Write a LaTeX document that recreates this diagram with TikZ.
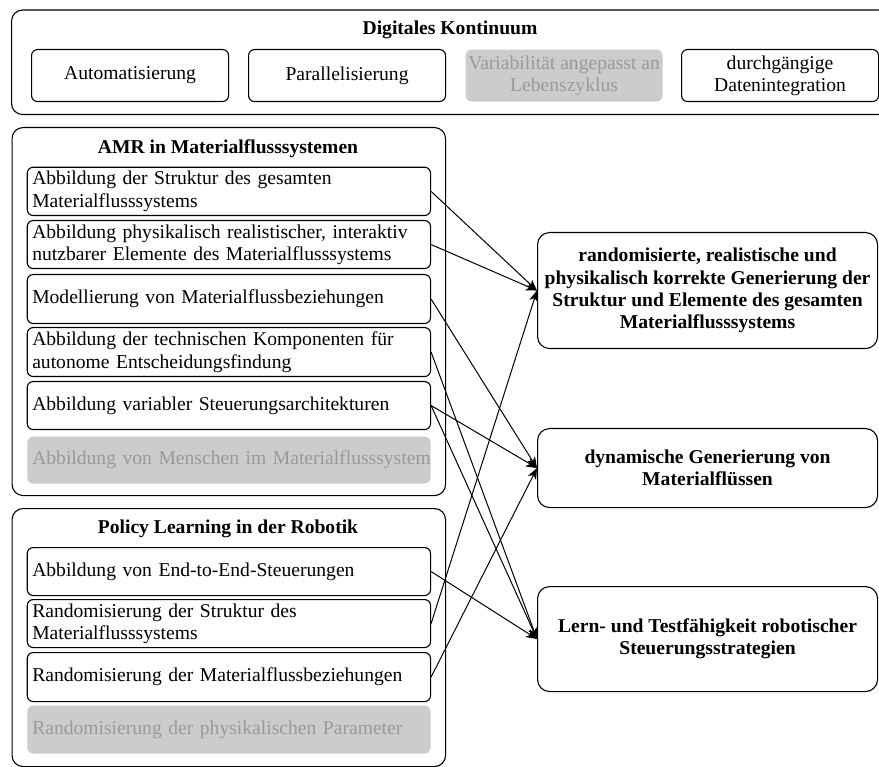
\documentclass[tikz,border=0pt]{standalone}
\usepackage{fontspec}
\setmainfont{Liberation Serif}
\usetikzlibrary{arrows.meta}
\definecolor{boxgray}{HTML}{CCCCCC}
\definecolor{textgray}{HTML}{999999}
\begin{document}
\begin{tikzpicture}[x=1pt,y=-1pt,
  txt/.style={font=\fontsize{19.6}{22.4}\selectfont},
  btxt/.style={font=\fontsize{19.6}{22.4}\selectfont\bfseries},
  group/.style={draw, line width=1.1pt, rounded corners=11pt, anchor=north west, inner sep=0pt},
  title/.style={btxt, inner sep=0pt},
  sub/.style={draw, line width=1.1pt, rounded corners=6pt, anchor=north west,
    minimum width=197pt, minimum height=52pt, inner sep=0pt, align=center, txt},
  subgray/.style={sub, draw=none, fill=boxgray, text=textgray},
  item/.style={draw, line width=1.1pt, rounded corners=6pt, anchor=north west,
    text width=393.3pt, inner xsep=5pt, inner ysep=0pt, align=left, txt},
  itemgray/.style={item, draw=none, fill=boxgray, text=textgray},
  goal/.style={draw, line width=1.1pt, rounded corners=12pt, anchor=north west,
    minimum width=340pt, inner sep=0pt, align=center, btxt},
  arr/.style={line width=1pt, -{Stealth[length=11pt,width=9pt,inset=3pt]}}
]
\useasboundingbox (0,0) rectangle (879,767);
\begin{scope}
\clip (0,0) rectangle (879,767);

% Digitales Kontinuum
\node[group, minimum width=878pt, minimum height=104.5pt] (dk) at (11,9.5) {};
\node[title] (dkt) at (450,30) {Digitales Kontinuum};
\node[sub] (s1) at (31,49) {Automatisierung};
\node[sub] (s2) at (248,49) {Parallelisierung};
\node[subgray] (s3) at (465,49) {Variabilität angepasst an\\Lebenszyklus};
\node[sub] (s4) at (681,49) {durchgängige\\Datenintegration};

% AMR in Materialflusssystemen
\node[group, minimum width=433.5pt, minimum height=368pt] (amr) at (11.5,127) {};
\node[title] (amrt) at (228,149) {AMR in Materialflusssystemen};
\node[item, minimum height=48.3pt] (a1) at (26.7,166.7) {Abbildung der Struktur des gesamten\\Materialflusssystems};
\node[item, minimum height=48pt] (a2) at (26.7,220) {Abbildung physikalisch realistischer, interaktiv\\nutzbarer Elemente des Materialflusssystems};
\node[item, minimum height=49pt] (a3) at (26.7,274) {Modellierung von Materialflussbeziehungen};
\node[item, minimum height=49pt] (a4) at (26.7,327) {Abbildung der technischen Komponenten für\\autonome Entscheidungsfindung};
\node[item, minimum height=48pt] (a5) at (26.7,381) {Abbildung variabler Steuerungsarchitekturen};
\node[itemgray, minimum height=47pt] (a6) at (26.7,436) {\mbox{Abbildung von Menschen im Materialflusssystem}};

% Policy Learning in der Robotik
\node[group, minimum width=433.5pt, minimum height=258pt] (pl) at (11.5,508) {};
\node[title] (plt) at (228,529) {Policy Learning in der Robotik};
\node[item, minimum height=48pt] (p1) at (26.7,547) {Abbildung von End-to-End-Steuerungen};
\node[item, minimum height=48pt] (p2) at (26.7,599) {Randomisierung der Struktur des\\Materialflusssystems};
\node[item, minimum height=49pt] (p3) at (26.7,652) {Randomisierung der Materialflussbeziehungen};
\node[itemgray, minimum height=48pt] (p4) at (26.7,705) {Randomisierung der physikalischen Parameter};

% Ziele
\node[goal, minimum height=116pt] (r1) at (537,232) {randomisierte, realistische und\\physikalisch korrekte Generierung der\\Struktur und Elemente des gesamten\\Materialflusssystems};
\node[goal, minimum height=79pt] (r2) at (537,428) {dynamische Generierung von\\Materialflüssen};
\node[goal, minimum height=105pt] (r3) at (537,586) {Lern- und Testfähigkeit robotischer\\Steuerungsstrategien};

% Zuordnungen
\draw[arr] (a1.east) -- (r1.west);
\draw[arr] (a2.east) -- (r1.west);
\draw[arr] (a3.east) -- (r2.west);
\draw[arr] (a4.east) -- (r3.west);
\draw[arr] (a5.east) -- (r2.west);
\draw[arr] (a5.east) -- (r3.west);
\draw[arr] (p1.east) -- (r3.west);
\draw[arr] (p2.east) -- (r1.west);
\draw[arr] (p3.east) -- (r2.west);
\end{scope}
\end{tikzpicture}
\end{document}
